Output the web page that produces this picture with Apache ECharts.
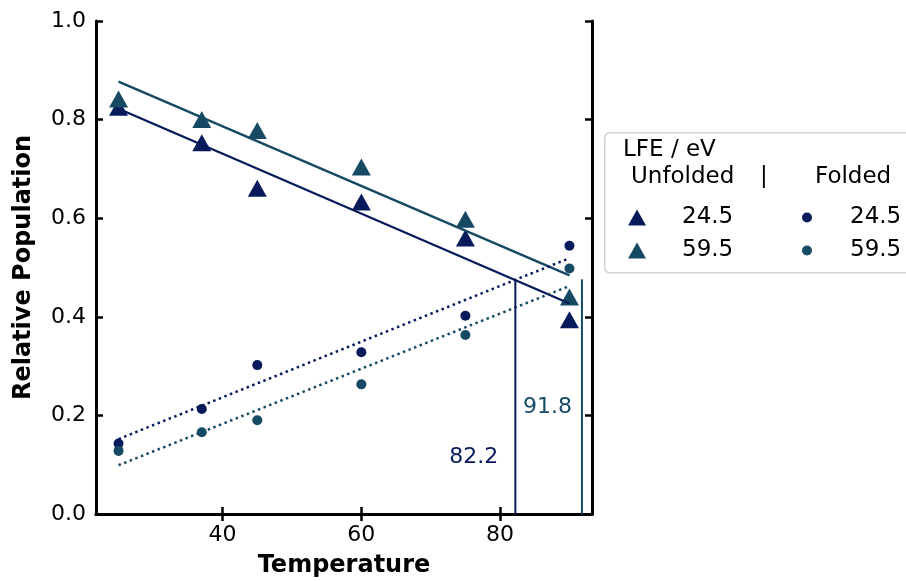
<!DOCTYPE html>
<html>
<head>
<meta charset="utf-8">
<script src="https://cdn.jsdelivr.net/npm/echarts@6/dist/echarts.min.js"></script>
<style>html,body{margin:0;padding:0;background:#fff}#c{width:906px;height:581px}</style>
</head>
<body>
<div id="c"></div>
<script>
// ---- data ----
var temps = [25, 37, 45, 60, 75, 90];
var unfolded245 = [0.825, 0.753, 0.661, 0.633, 0.560, 0.394];
var unfolded595 = [0.842, 0.800, 0.778, 0.704, 0.598, 0.440];
var folded245 = [0.143, 0.213, 0.302, 0.328, 0.402, 0.544];
var folded595 = [0.128, 0.166, 0.190, 0.263, 0.363, 0.498];
var fitT = [25, 90];
var fitUnfolded245 = [0.822, 0.427];
var fitUnfolded595 = [0.877, 0.484];
var fitFolded245 = [0.152, 0.519];
var fitFolded595 = [0.099, 0.4625];
var crossT = [82.2, 91.8];
var crossP = [0.475, 0.476];
var xTicks = [40, 60, 80];

var NAVY = '#071b5c';
var TEAL = '#164a64';
var FONT = 'DejaVu Sans';

function pts(xs, ys) { return xs.map(function (x, i) { return [x, ys[i]]; }); }

var chart = echarts.init(document.getElementById('c'), null, {renderer: 'canvas'});

var axisLineStyle = {lineStyle: {color: '#000', width: 3}};
var tickStyle = {inside: true, length: 7, lineStyle: {color: '#000', width: 2.5}};

var option = {
  animation: false,
  backgroundColor: '#fff',
  grid: {left: 96, top: 21, right: 314, bottom: 67, containLabel: false, outerBoundsMode: 'none'},
  xAxis: [{
    type: 'value', min: 21.75, max: 93.25, position: 'bottom',
    name: 'Temperature', nameLocation: 'middle', nameGap: 40,
    nameTextStyle: {fontFamily: FONT, fontSize: 24, fontWeight: 'bold', color: '#000'},
    axisLine: axisLineStyle,
    axisTick: Object.assign({customValues: xTicks}, tickStyle),
    axisLabel: {customValues: xTicks, fontFamily: FONT, fontSize: 22, color: '#000', margin: 10},
    splitLine: {show: false}
  }, {
    type: 'value', min: 21.75, max: 93.25, position: 'top',
    axisLine: axisLineStyle,
    axisTick: Object.assign({customValues: xTicks}, tickStyle),
    axisLabel: {show: false},
    splitLine: {show: false}
  }],
  yAxis: [{
    type: 'value', min: 0, max: 1, interval: 0.2, position: 'left',
    name: 'Relative Population', nameLocation: 'middle', nameGap: 60,
    nameTextStyle: {fontFamily: FONT, fontSize: 24, fontWeight: 'bold', color: '#000'},
    axisLine: axisLineStyle,
    axisTick: tickStyle,
    axisLabel: {fontFamily: FONT, fontSize: 22, color: '#000', margin: 10,
      formatter: function (v) { return v.toFixed(1); }},
    splitLine: {show: false}
  }, {
    type: 'value', min: 0, max: 1, interval: 0.2, position: 'right',
    axisLine: axisLineStyle,
    axisTick: tickStyle,
    axisLabel: {show: false},
    splitLine: {show: false}
  }],
  legend: [{
    data: ['Unfolded 24.5', 'Unfolded 59.5'],
    orient: 'vertical', left: 628, top: 206, padding: 0,
    itemWidth: 18, itemHeight: 16, itemGap: 10,
    formatter: function (n) { return n.split(' ')[1]; },
    textStyle: {fontFamily: FONT, fontSize: 23, color: '#000', lineHeight: 22, padding: [0, 0, 0, 31]},
    selectedMode: false
  }, {
    data: ['Folded 24.5', 'Folded 59.5'],
    orient: 'vertical', left: 802, top: 206, padding: 0,
    itemWidth: 10, itemHeight: 10, itemGap: 10,
    formatter: function (n) { return n.split(' ')[1]; },
    textStyle: {fontFamily: FONT, fontSize: 23, color: '#000', lineHeight: 22, padding: [0, 0, 0, 33]},
    selectedMode: false
  }],
  graphic: [
    {type: 'rect', left: 604, top: 132, z: 0,
      shape: {width: 330, height: 140, r: 5},
      style: {fill: '#fff', stroke: '#d2d2d2', lineWidth: 1.5}},
    {type: 'text', left: 623, top: 139, z: 5,
      style: {text: 'LFE / eV', font: '23px "DejaVu Sans"', fill: '#000'}},
    {type: 'text', left: 631, top: 166, z: 5,
      style: {text: 'Unfolded', font: '23px "DejaVu Sans"', fill: '#000'}},
    {type: 'text', left: 760, top: 166, z: 5,
      style: {text: '|', font: '23px "DejaVu Sans"', fill: '#000'}},
    {type: 'text', left: 815, top: 166, z: 5,
      style: {text: 'Folded', font: '23px "DejaVu Sans"', fill: '#000'}}
  ],
  series: [
    {name: 'Unfolded 24.5', type: 'scatter', symbol: 'triangle', symbolSize: [19, 17],
      itemStyle: {color: NAVY, opacity: 1}, data: pts(temps, unfolded245)},
    {name: 'Unfolded 59.5', type: 'scatter', symbol: 'triangle', symbolSize: [19, 17],
      itemStyle: {color: TEAL, opacity: 1}, data: pts(temps, unfolded595)},
    {name: 'Folded 24.5', type: 'scatter', symbol: 'circle', symbolSize: 10,
      itemStyle: {color: NAVY, opacity: 1}, data: pts(temps, folded245)},
    {name: 'Folded 59.5', type: 'scatter', symbol: 'circle', symbolSize: 10,
      itemStyle: {color: TEAL, opacity: 1}, data: pts(temps, folded595)},
    {type: 'line', showSymbol: false, silent: true, lineStyle: {color: NAVY, width: 2.4},
      data: pts(fitT, fitUnfolded245)},
    {type: 'line', showSymbol: false, silent: true, lineStyle: {color: TEAL, width: 2.4},
      data: pts(fitT, fitUnfolded595)},
    {type: 'line', showSymbol: false, silent: true, lineStyle: {color: NAVY, width: 2.5, type: [2.5, 3.5]},
      data: pts(fitT, fitFolded245)},
    {type: 'line', showSymbol: false, silent: true, lineStyle: {color: TEAL, width: 2.5, type: [2.5, 3.5]},
      data: pts(fitT, fitFolded595)},
    {type: 'line', showSymbol: false, silent: true, lineStyle: {color: NAVY, width: 2},
      data: [[crossT[0], 0], [crossT[0], crossP[0]]]},
    {type: 'line', showSymbol: false, silent: true, lineStyle: {color: TEAL, width: 2},
      data: [[crossT[1], 0], [crossT[1], crossP[1]]]},
    {type: 'scatter', silent: true, symbolSize: 0, itemStyle: {opacity: 1},
      data: [{value: [crossT[0], 0.116], label: {color: NAVY, distance: 17}},
             {value: [crossT[1], 0.217], label: {color: TEAL, distance: 10}}],
      label: {show: true, position: 'left', fontFamily: FONT, fontSize: 22, opacity: 1,
        textBorderWidth: 0,
        formatter: function (p) { return p.value[0].toFixed(1); }}}
  ]
};
chart.setOption(option);
</script>
</body>
</html>
